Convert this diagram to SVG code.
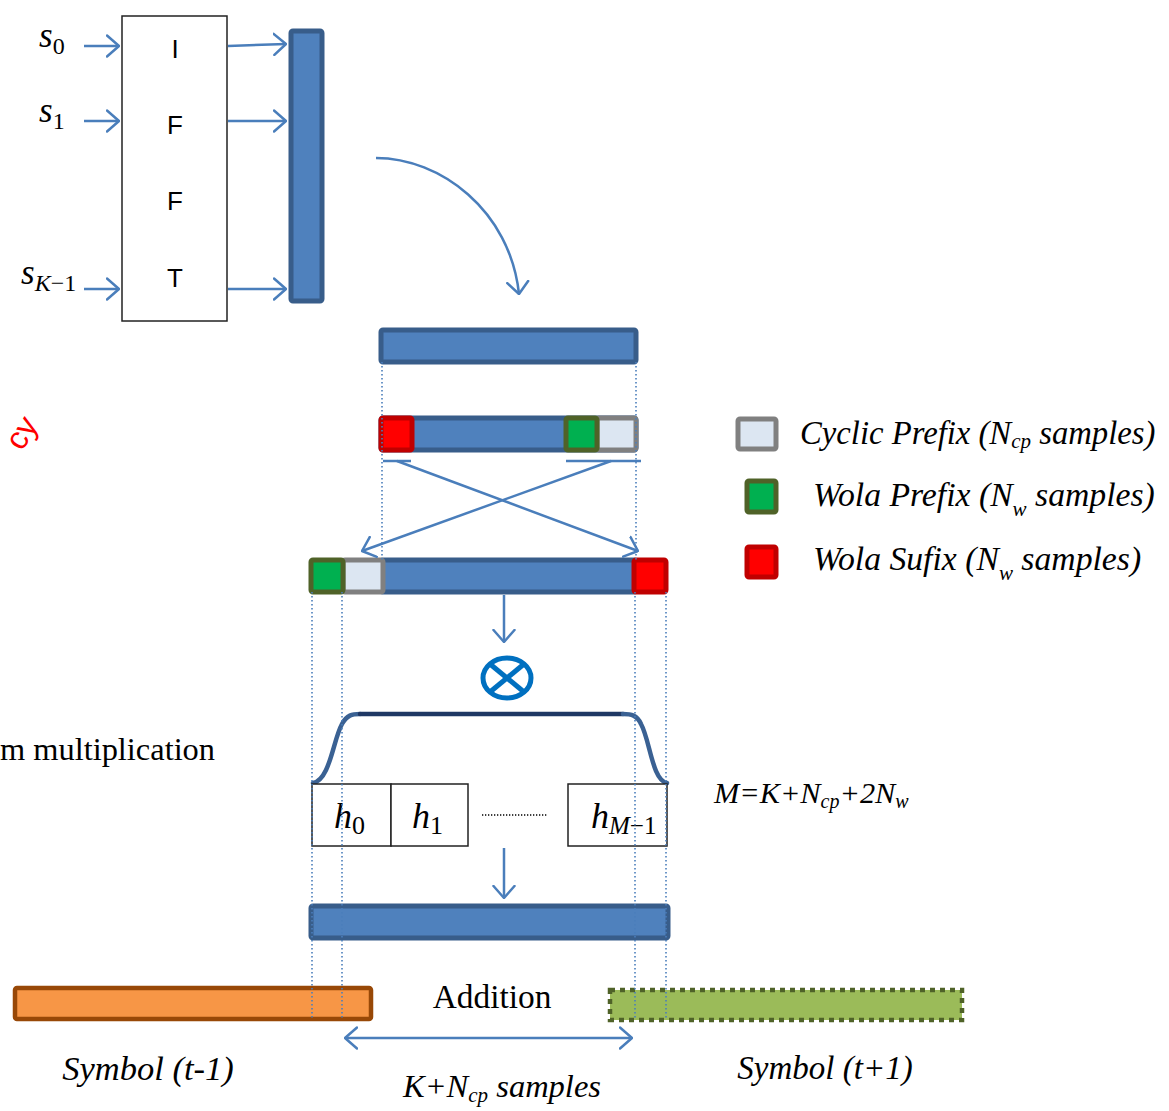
<svg xmlns="http://www.w3.org/2000/svg" width="1169" height="1111" viewBox="0 0 1169 1111">
  <style>
    .bar { fill: #4f81bd; stroke: #385d8a; stroke-width: 5; }
    .cp { fill: #dce6f2; stroke: #808080; stroke-width: 5; }
    .wp { fill: #00b050; stroke: #4f6228; stroke-width: 5; }
    .ws { fill: #ff0000; stroke: #c00000; stroke-width: 5; }
    .line { fill: none; stroke: #4a7ebb; stroke-width: 2.5; }
    .dot { fill: none; stroke: #4a7ebb; stroke-width: 1.6; stroke-dasharray: 1.6 2.4; }
    .box { fill: #ffffff; stroke: #222222; stroke-width: 1.5; }
    .sans { font-family: "Liberation Sans", Arial, sans-serif; fill: #000; }
    .serif { font-family: "Liberation Serif", "Times New Roman", serif; fill: #000; }
    .it { font-family: "Liberation Serif", "Times New Roman", serif; font-style: italic; fill: #000; }
  </style>
  <defs>
    <marker id="arrow" viewBox="0 0 14 24" refX="13" refY="12" markerWidth="14" markerHeight="24" markerUnits="userSpaceOnUse" orient="auto-start-reverse">
      <path d="M1,1.5 L13,12 L1,22.5" fill="none" stroke="#4a7ebb" stroke-width="2.5" stroke-linecap="round" stroke-linejoin="round"/>
    </marker>
  </defs>

  <rect width="1169" height="1111" fill="#ffffff"/>

  <!-- IFFT block -->
  <g id="ifft">
    <rect class="box" x="122" y="16" width="105" height="305"/>
    <text class="sans" x="175" y="58" font-size="26" text-anchor="middle">I</text>
    <text class="sans" x="175" y="134" font-size="26" text-anchor="middle">F</text>
    <text class="sans" x="175" y="210" font-size="26" text-anchor="middle">F</text>
    <text class="sans" x="175" y="287" font-size="26" text-anchor="middle">T</text>
  </g>

  <!-- input symbols -->
  <g id="inputs">
    <text class="it" x="39" y="47" font-size="35">s<tspan font-style="normal" font-size="24" dy="7">0</tspan></text>
    <text class="it" x="39" y="122" font-size="35">s<tspan font-style="normal" font-size="24" dy="7">1</tspan></text>
    <text class="it" x="21" y="284" font-size="35">s<tspan font-size="24" dy="7">K</tspan><tspan font-style="normal" font-size="24">−1</tspan></text>
  </g>

  <!-- IFFT output column -->
  <g id="time-column">
    <rect class="bar" x="291" y="31" width="31" height="270" rx="2"/>
  </g>

  <!-- time-domain symbol -->
  <g id="symbol">
    <rect class="bar" x="381" y="330" width="255" height="32" rx="2"/>
  </g>

  <!-- symbol with prefix/suffix parts marked -->
  <g id="symbol-marked">
    <rect class="bar" x="381" y="418" width="255" height="32" rx="2"/>
    <rect class="ws" x="381" y="418" width="31" height="32" rx="2"/>
    <rect class="cp" x="597" y="418" width="39" height="32" rx="2"/>
    <rect class="wp" x="566" y="418" width="31" height="32" rx="2"/>
  </g>

  <!-- extended symbol -->
  <g id="symbol-extended">
    <rect class="bar" x="381" y="560" width="255" height="32" rx="2"/>
    <rect class="cp" x="343" y="560" width="40" height="32" rx="2"/>
    <rect class="wp" x="311" y="560" width="32" height="32" rx="2"/>
    <rect class="ws" x="634" y="560" width="32" height="32" rx="2"/>
  </g>

  <!-- multiplier -->
  <g id="multiplier" fill="none" stroke="#0070c0" stroke-width="5">
    <ellipse cx="507" cy="678" rx="24" ry="20"/>
    <line x1="490" y1="664" x2="524" y2="692"/>
    <line x1="524" y1="664" x2="490" y2="692"/>
  </g>

  <!-- window shape -->
  <g id="window" fill="none" stroke-width="4.5" stroke-linecap="round">
    <path d="M313,783 C330,780 333,740 342,724 C347,715 352,714 360,714" stroke="#3a6193"/>
    <path d="M360,714 L623,714" stroke="#1f3864"/>
    <path d="M623,714 C631,714 637,715 641,724 C650,740 652,780 667,783" stroke="#3a6193"/>
  </g>

  <!-- window coefficients -->
  <g id="coefficients">
    <rect class="box" x="312" y="784" width="79" height="62"/>
    <rect class="box" x="391" y="784" width="77" height="62"/>
    <rect class="box" x="568" y="784" width="99" height="62"/>
    <text class="it" x="334" y="828" font-size="36">h<tspan font-style="normal" font-size="26" dy="6">0</tspan></text>
    <text class="it" x="412" y="828" font-size="36">h<tspan font-style="normal" font-size="26" dy="6">1</tspan></text>
    <text class="it" x="591" y="828" font-size="36">h<tspan font-size="25" dy="6">M</tspan><tspan font-style="normal" font-size="25">−1</tspan></text>
    <line x1="482" y1="815" x2="548" y2="815" stroke="#000" stroke-width="1.3" stroke-dasharray="1.3 1.7"/>
  </g>

  <!-- windowed symbol -->
  <g id="symbol-windowed">
    <rect class="bar" x="311" y="906" width="357" height="32" rx="2"/>
  </g>

  <!-- neighbouring symbols -->
  <g id="symbol-prev">
    <rect x="15" y="988" width="356" height="31" rx="2" fill="#f79646" stroke="#984807" stroke-width="4.5"/>
  </g>
  <g id="symbol-next">
    <rect x="610" y="990" width="352" height="30" fill="#9bbb59" stroke="#4f6228" stroke-width="4.5" stroke-dasharray="5 5"/>
  </g>

  <!-- connectors -->
  <g id="connectors">
    <line class="line" x1="84" y1="46" x2="119" y2="46" marker-end="url(#arrow)"/>
    <line class="line" x1="84" y1="121" x2="119" y2="121" marker-end="url(#arrow)"/>
    <line class="line" x1="84" y1="289" x2="119" y2="289" marker-end="url(#arrow)"/>
    <line class="line" x1="228" y1="46" x2="286" y2="44" marker-end="url(#arrow)"/>
    <line class="line" x1="228" y1="121" x2="286" y2="121" marker-end="url(#arrow)"/>
    <line class="line" x1="228" y1="289" x2="286" y2="289" marker-end="url(#arrow)"/>
    <path class="line" d="M376,158 C440,158 510,210 519,294" marker-end="url(#arrow)"/>

    <line class="line" x1="383" y1="461" x2="411" y2="461" stroke-width="2"/>
    <line class="line" x1="566" y1="461" x2="641" y2="461" stroke-width="2"/>
    <line class="line" x1="397" y1="461" x2="638" y2="551" marker-end="url(#arrow)"/>
    <line class="line" x1="611" y1="461" x2="362" y2="551" marker-end="url(#arrow)"/>

    <line class="line" x1="504" y1="595" x2="504" y2="642" marker-end="url(#arrow)"/>
    <line class="line" x1="504" y1="848" x2="504" y2="898" marker-end="url(#arrow)"/>
    <line class="line" x1="345" y1="1038" x2="632" y2="1038" marker-start="url(#arrow)" marker-end="url(#arrow)"/>

    <line class="dot" x1="382" y1="362" x2="382" y2="560"/>
    <line class="dot" x1="636" y1="362" x2="636" y2="560"/>
    <line class="dot" x1="312" y1="592" x2="312" y2="1019"/>
    <line class="dot" x1="342" y1="592" x2="342" y2="1019"/>
    <line class="dot" x1="635" y1="592" x2="635" y2="1019"/>
    <line class="dot" x1="666" y1="592" x2="666" y2="1019"/>
  </g>

  <!-- legend -->
  <g id="legend">
    <rect class="cp" x="738" y="419" width="38" height="30" rx="2"/>
    <rect class="wp" x="747" y="481" width="29" height="31" rx="2"/>
    <rect class="ws" x="747" y="547" width="29" height="30" rx="2"/>
    <text class="it" x="800" y="444" font-size="32.7">Cyclic Prefix (N<tspan font-size="21" dy="4">cp</tspan><tspan dy="-4"> samples)</tspan></text>
    <text class="it" x="813" y="506" font-size="33.7">Wola Prefix (N<tspan font-size="21" dy="10">w</tspan><tspan dy="-10"> samples)</tspan></text>
    <text class="it" x="813" y="570" font-size="33.7">Wola Sufix (N<tspan font-size="21" dy="10">w</tspan><tspan dy="-10"> samples)</tspan></text>
  </g>

  <!-- labels -->
  <g id="labels">
    <text class="it" x="714" y="803" font-size="30.3">M=K+N<tspan font-size="20" dy="5">cp</tspan><tspan dy="-5">+2N</tspan><tspan font-size="20" dy="5">w</tspan></text>
    <text class="serif" x="0" y="760" font-size="32.4">m multiplication</text>
    <text class="serif" x="492" y="1008" font-size="33.4" text-anchor="middle">Addition</text>
    <text class="it" x="148" y="1080" font-size="34.5" text-anchor="middle">Symbol (t-1)</text>
    <text class="it" x="825" y="1079" font-size="33" text-anchor="middle">Symbol (t+1)</text>
    <text class="it" x="403" y="1097" font-size="32.5">K+N<tspan font-size="21" dy="5">cp</tspan><tspan dy="-5"> samples</tspan></text>
    <text class="sans" x="22" y="452" font-size="32" style="fill:#ff0000" transform="rotate(-58 22 452)">cy</text>
  </g>
</svg>
